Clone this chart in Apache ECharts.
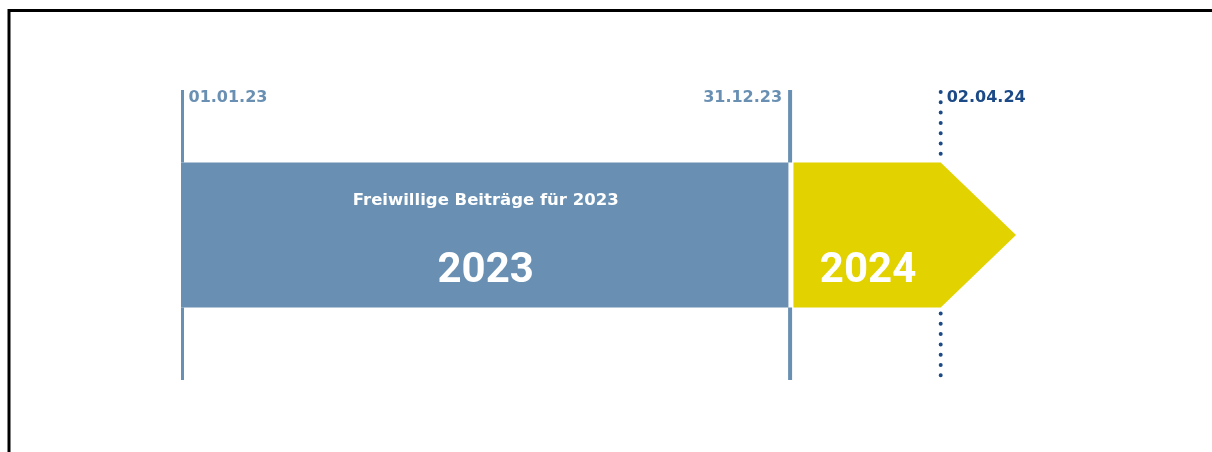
<!DOCTYPE html>
<html>
<head>
<meta charset="utf-8">
<script src="https://cdn.jsdelivr.net/npm/echarts@6/dist/echarts.min.js"></script>
<style>
  html, body { margin: 0; padding: 0; background: #fff; }
  #chart { width: 1212px; height: 452px; }
</style>
</head>
<body>
<div id="chart"></div>
<script>
// days counted from 01.01.23 (positions)
const markerLabels = ['01.01.23', '31.12.23', '02.04.24']
const markerDays = [0, 364, 454]
const markerStyle = ['solid', 'solid', 'dotted']

// periods: [start, end, arrow tip]
const periodNames = ['2023', '2024']
const periodStart = [0, 366]
const periodEnd = [363, 454]
const periodTip = [363, 499]
const periodSubtitle = ['Freiwillige Beiträge für 2023', '']

const BLUE = '#6990b2'
const YELLOW = '#e2d200'
const DARK = '#1b4a86'
const FONT = 'Roboto, "DejaVu Sans", sans-serif'
const FONT_WIDE = '"DejaVu Sans", Roboto, sans-serif'

const chart = echarts.init(document.getElementById('chart'))

const bandLow = 25, bandHigh = 75

const option = {
  animation: false,
  backgroundColor: '#fff',
  grid: { left: 181, right: 27, top: 90, bottom: 72 },
  xAxis: { type: 'value', min: 0, max: 600, show: false },
  yAxis: { type: 'value', min: 0, max: 100, show: false },
  graphic: [
    {
      type: 'polyline',
      shape: { points: [[9, 452], [9, 10.5], [1212, 10.5]] },
      style: { stroke: '#000', lineWidth: 3, fill: null }
    }
  ],
  series: [
    {
      type: 'custom',
      coordinateSystem: 'cartesian2d',
      data: periodNames.map((n, i) => [periodStart[i], periodEnd[i], periodTip[i], i]),
      renderItem: (params, api) => {
        const i = api.value(3)
        const x0 = api.coord([api.value(0), bandHigh])
        const x1 = api.coord([api.value(1), bandLow])
        const tip = api.coord([api.value(2), (bandLow + bandHigh) / 2])
        const top = x0[1], bot = x1[1]
        const cx = (x0[0] + x1[0]) / 2
        const children = [{
          type: 'polygon',
          shape: {
            points: [[x0[0], top], [x1[0], top], [tip[0], tip[1]], [x1[0], bot], [x0[0], bot]]
          },
          style: { fill: i === 0 ? BLUE : YELLOW }
        }, {
          type: 'text',
          x: cx + 1, y: tip[1] + 36,
          style: {
            text: periodNames[i], fill: '#fff', font: 'bold 42px ' + FONT,
            align: 'center', verticalAlign: 'middle'
          }
        }]
        if (periodSubtitle[i]) {
          children.push({
            type: 'text',
            x: cx + 1, y: top + 38,
            style: {
              text: periodSubtitle[i], fill: '#fff', font: 'bold 16.5px ' + FONT_WIDE,
              align: 'center', verticalAlign: 'middle'
            }
          })
        }
        return { type: 'group', children }
      }
    },
    {
      type: 'custom',
      coordinateSystem: 'cartesian2d',
      data: markerDays.map((d, i) => [d, i]),
      renderItem: (params, api) => {
        const i = api.value(1)
        const p0 = api.coord([api.value(0), 0])
        const p1 = api.coord([api.value(0), 100])
        const pLow = api.coord([api.value(0), bandLow])
        const pHigh = api.coord([api.value(0), bandHigh])
        const dotted = markerStyle[i] === 'dotted'
        const col = dotted ? DARK : BLUE
        const x = i === 0 ? p0[0] + 1.5 : p0[0]
        const ls = dotted
          ? { stroke: col, lineWidth: 4, lineDash: [0, 10.3], lineCap: 'round' }
          : { stroke: col, lineWidth: i === 0 ? 3 : 4 }
        const segs = [
          { type: 'line', shape: { x1: x, y1: p1[1] + (dotted ? 2 : 0), x2: x, y2: pHigh[1] }, style: ls },
          { type: 'line', shape: { x1: x, y1: pLow[1] + (dotted ? 6 : 0), x2: x, y2: p0[1] }, style: ls }
        ]
        const right = i === 1
        segs.push({
          type: 'text',
          x: right ? x - 8 : x + 6,
          y: p1[1] + 8,
          style: {
            text: markerLabels[i], fill: col, font: 'bold 16px ' + FONT_WIDE,
            align: right ? 'right' : 'left', verticalAlign: 'middle'
          }
        })
        return { type: 'group', children: segs }
      }
    }
  ]
}

chart.setOption(option)
</script>
</body>
</html>
